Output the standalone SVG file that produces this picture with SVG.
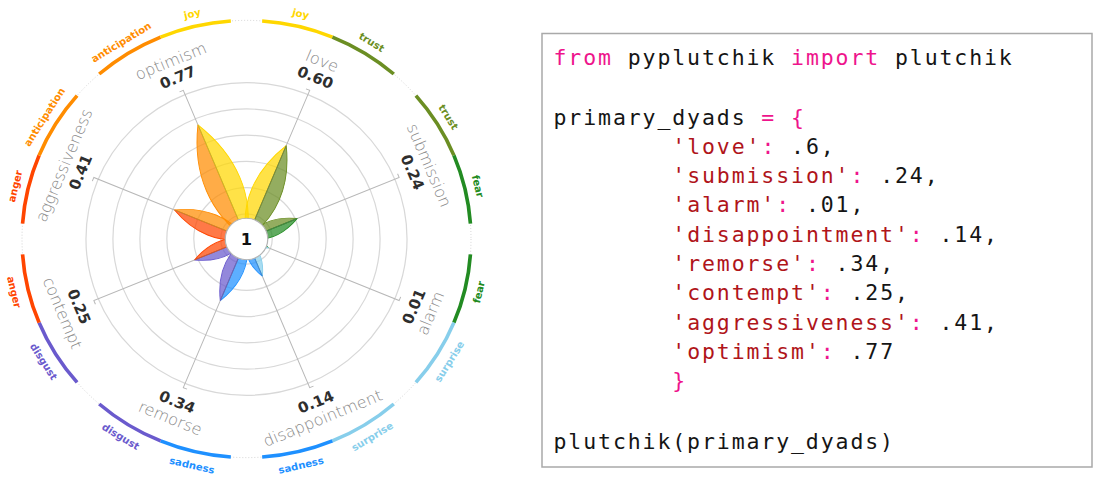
<svg xmlns="http://www.w3.org/2000/svg" width="1100" height="482" viewBox="0 0 1100 482">
<style>
.joy{fill:#FFD700;stroke:#FFD700}
.trust{fill:#6B8E23;stroke:#6B8E23}
.fear{fill:#228B22;stroke:#228B22}
.surprise{fill:#87CEEB;stroke:#87CEEB}
.sadness{fill:#1E90FF;stroke:#1E90FF}
.disgust{fill:#6A5ACD;stroke:#6A5ACD}
.anger{fill:#FF4500;stroke:#FF4500}
.anticipation{fill:#FF8C00;stroke:#FF8C00}
.grid{fill:none;stroke:#d8d8d8;stroke-width:1.2}
.ring{fill:none;stroke:#c8c8c8;stroke-width:0.8;stroke-dasharray:1 2}
.lead{fill:none;stroke:#b8b8b8;stroke-width:1}
.petal{fill-opacity:0.72;stroke-width:0.9}
.mid{stroke:#7a7a7a;stroke-opacity:0.55;stroke-width:0.7}
.arc{fill:none;stroke-width:3.6}
.val{font-family:"DejaVu Sans","Liberation Sans",sans-serif;font-weight:bold;font-size:15px;fill:#2e2e2e;text-anchor:middle}
.name{font-family:"DejaVu Sans","Liberation Sans",sans-serif;font-weight:200;font-size:16px;fill:#8a8a8a;text-anchor:middle}
.emo{font-family:"DejaVu Sans","Liberation Sans",sans-serif;font-weight:bold;font-size:10px;text-anchor:middle;stroke:none}
.code{font-family:"DejaVu Sans Mono","Liberation Mono",monospace;font-size:21.5px;letter-spacing:1.9px;fill:#151515}
.kw{fill:#ee148c}
.st{fill:#b0151a}
</style>

<g id="chart" transform="translate(246.5,239) scale(1.0135,0.987)">
  <g id="grid">
    <circle class="grid" r="25.4"/>
    <circle class="grid" r="52"/>
    <circle class="grid" r="78.6"/>
    <circle class="grid" r="105.2"/>
    <circle class="grid" r="131.8"/>
    <circle class="grid" r="158.4"/>
    <circle class="ring" r="221.5"/>
  </g>

  <g id="connectors">
    <path class="lead" transform="rotate(22.5)" d="M0,-102.4 V-163 H-4"/>
    <path class="lead" transform="rotate(67.5)" d="M0,-54.2 V-163 H-4"/>
    <path class="lead" transform="rotate(112.5)" d="M0,-23.3 V-163 H-4"/>
    <path class="lead" transform="rotate(157.5)" d="M0,-40.8 V-163 H-4"/>
    <path class="lead" transform="rotate(202.5)" d="M0,-67.6 V-163 H-4"/>
    <path class="lead" transform="rotate(247.5)" d="M0,-55.5 V-163 H-4"/>
    <path class="lead" transform="rotate(292.5)" d="M0,-76.9 V-163 H-4"/>
    <path class="lead" transform="rotate(337.5)" d="M0,-125.2 V-163 H-4"/>
  </g>

  <g id="dyad-love">
    <g transform="rotate(22.5)">
      <path class="petal joy" d="M0,0 C-19.5,-30.7 -19.5,-66.6 0,-102.4 Z"/>
      <path class="petal trust" d="M0,0 C19.5,-30.7 19.5,-66.6 0,-102.4 Z"/>
      <line class="mid" x1="0" y1="0" x2="0" y2="-102.4"/>
      <text class="val" y="-172">0.60</text>
      <text class="name" y="-189.5">love</text>
    </g>
  </g>
  <g id="dyad-submission">
    <g transform="rotate(67.5)">
      <path class="petal trust" d="M0,0 C-10.3,-16.3 -10.3,-35.2 0,-54.2 Z"/>
      <path class="petal fear" d="M0,0 C10.3,-16.3 10.3,-35.2 0,-54.2 Z"/>
      <line class="mid" x1="0" y1="0" x2="0" y2="-54.2"/>
      <text class="val" y="-172">0.24</text>
      <text class="name" y="-189.5">submission</text>
    </g>
  </g>
  <g id="dyad-alarm">
    <g transform="rotate(112.5)">
      <path class="petal fear" d="M0,0 C-4.4,-7 -4.4,-15.1 0,-23.3 Z"/>
      <path class="petal surprise" d="M0,0 C4.4,-7 4.4,-15.1 0,-23.3 Z"/>
    </g>
    <g transform="rotate(-67.5)">
      <text class="val" y="184">0.01</text>
      <text class="name" y="202">alarm</text>
    </g>
  </g>
  <g id="dyad-disappointment">
    <g transform="rotate(157.5)">
      <path class="petal surprise" d="M0,0 C-7.8,-12.2 -7.8,-26.5 0,-40.8 Z"/>
      <path class="petal sadness" d="M0,0 C7.8,-12.2 7.8,-26.5 0,-40.8 Z"/>
      <line class="mid" x1="0" y1="0" x2="0" y2="-40.8"/>
    </g>
    <g transform="rotate(-22.5)">
      <text class="val" y="184">0.14</text>
      <text class="name" y="202">disappointment</text>
    </g>
  </g>
  <g id="dyad-remorse">
    <g transform="rotate(202.5)">
      <path class="petal sadness" d="M0,0 C-12.8,-20.3 -12.8,-43.9 0,-67.6 Z"/>
      <path class="petal disgust" d="M0,0 C12.8,-20.3 12.8,-43.9 0,-67.6 Z"/>
      <line class="mid" x1="0" y1="0" x2="0" y2="-67.6"/>
    </g>
    <g transform="rotate(22.5)">
      <text class="val" y="184">0.34</text>
      <text class="name" y="202">remorse</text>
    </g>
  </g>
  <g id="dyad-contempt">
    <g transform="rotate(247.5)">
      <path class="petal disgust" d="M0,0 C-10.5,-16.7 -10.5,-36.1 0,-55.5 Z"/>
      <path class="petal anger" d="M0,0 C10.5,-16.7 10.5,-36.1 0,-55.5 Z"/>
      <line class="mid" x1="0" y1="0" x2="0" y2="-55.5"/>
    </g>
    <g transform="rotate(67.5)">
      <text class="val" y="184">0.25</text>
      <text class="name" y="202">contempt</text>
    </g>
  </g>
  <g id="dyad-aggressiveness">
    <g transform="rotate(292.5)">
      <path class="petal anger" d="M0,0 C-14.6,-23.1 -14.6,-50 0,-76.9 Z"/>
      <path class="petal anticipation" d="M0,0 C14.6,-23.1 14.6,-50 0,-76.9 Z"/>
      <line class="mid" x1="0" y1="0" x2="0" y2="-76.9"/>
    </g>
    <g transform="rotate(-67.5)">
      <text class="val" y="-172">0.41</text>
      <text class="name" y="-189.5">aggressiveness</text>
    </g>
  </g>
  <g id="dyad-optimism">
    <g transform="rotate(337.5)">
      <path class="petal anticipation" d="M0,0 C-23.8,-37.6 -23.8,-81.4 0,-125.2 Z"/>
      <path class="petal joy" d="M0,0 C23.8,-37.6 23.8,-81.4 0,-125.2 Z"/>
      <line class="mid" x1="0" y1="0" x2="0" y2="-125.2"/>
    </g>
    <g transform="rotate(-22.5)">
      <text class="val" y="-172">0.77</text>
      <text class="name" y="-189.5">optimism</text>
    </g>
  </g>

  <g id="center">
    <circle r="21" fill="#ffffff" stroke="#b4b4b4" stroke-width="1.2"/>
    <text y="5.8" font-family="DejaVu Sans, Liberation Sans, sans-serif" font-weight="bold" font-size="16" text-anchor="middle" fill="#111">1</text>
  </g>

  <g id="emotion-ring">
    <g transform="rotate(22.5)">
      <path class="arc joy" d="M-70.28,-210.05 A221.5,221.5 0 0 1 0,-221.5"/>
      <path class="arc trust" d="M0,-221.5 A221.5,221.5 0 0 1 70.28,-210.05"/>
    </g>
    <g transform="rotate(67.5)">
      <path class="arc trust" d="M-70.28,-210.05 A221.5,221.5 0 0 1 0,-221.5"/>
      <path class="arc fear" d="M0,-221.5 A221.5,221.5 0 0 1 70.28,-210.05"/>
    </g>
    <g transform="rotate(112.5)">
      <path class="arc fear" d="M-70.28,-210.05 A221.5,221.5 0 0 1 0,-221.5"/>
      <path class="arc surprise" d="M0,-221.5 A221.5,221.5 0 0 1 70.28,-210.05"/>
    </g>
    <g transform="rotate(157.5)">
      <path class="arc surprise" d="M-70.28,-210.05 A221.5,221.5 0 0 1 0,-221.5"/>
      <path class="arc sadness" d="M0,-221.5 A221.5,221.5 0 0 1 70.28,-210.05"/>
    </g>
    <g transform="rotate(202.5)">
      <path class="arc sadness" d="M-70.28,-210.05 A221.5,221.5 0 0 1 0,-221.5"/>
      <path class="arc disgust" d="M0,-221.5 A221.5,221.5 0 0 1 70.28,-210.05"/>
    </g>
    <g transform="rotate(247.5)">
      <path class="arc disgust" d="M-70.28,-210.05 A221.5,221.5 0 0 1 0,-221.5"/>
      <path class="arc anger" d="M0,-221.5 A221.5,221.5 0 0 1 70.28,-210.05"/>
    </g>
    <g transform="rotate(292.5)">
      <path class="arc anger" d="M-70.28,-210.05 A221.5,221.5 0 0 1 0,-221.5"/>
      <path class="arc anticipation" d="M0,-221.5 A221.5,221.5 0 0 1 70.28,-210.05"/>
    </g>
    <g transform="rotate(337.5)">
      <path class="arc anticipation" d="M-70.28,-210.05 A221.5,221.5 0 0 1 0,-221.5"/>
      <path class="arc joy" d="M0,-221.5 A221.5,221.5 0 0 1 70.28,-210.05"/>
    </g>

    <text class="emo joy" transform="rotate(13.2) translate(0,-231)">joy</text>
    <text class="emo trust" transform="rotate(31.8) translate(0,-231)">trust</text>
    <text class="emo trust" transform="rotate(58.2) translate(0,-231)">trust</text>
    <text class="emo fear" transform="rotate(76.8) translate(0,-231)">fear</text>
    <text class="emo fear" transform="rotate(-76.8) translate(0,239)">fear</text>
    <text class="emo surprise" transform="rotate(-58.2) translate(0,239)">surprise</text>
    <text class="emo surprise" transform="rotate(-31.8) translate(0,239)">surprise</text>
    <text class="emo sadness" transform="rotate(-13.2) translate(0,239)">sadness</text>
    <text class="emo sadness" transform="rotate(13.2) translate(0,239)">sadness</text>
    <text class="emo disgust" transform="rotate(31.8) translate(0,239)">disgust</text>
    <text class="emo disgust" transform="rotate(58.2) translate(0,239)">disgust</text>
    <text class="emo anger" transform="rotate(76.8) translate(0,239)">anger</text>
    <text class="emo anger" transform="rotate(-76.8) translate(0,-231)">anger</text>
    <text class="emo anticipation" transform="rotate(-58.2) translate(0,-231)">anticipation</text>
    <text class="emo anticipation" transform="rotate(-31.8) translate(0,-231)">anticipation</text>
    <text class="emo joy" transform="rotate(-13.2) translate(0,-231)">joy</text>
  </g>
</g>

<g id="code">
  <rect x="542" y="33.5" width="550" height="433.5" fill="#ffffff" stroke="#a9a9a9" stroke-width="1.5"/>
  <text class="code" x="553.5" y="64.5"><tspan class="kw">from</tspan> pyplutchik <tspan class="kw">import</tspan> plutchik</text>
  <text class="code" x="553.5" y="125">primary_dyads <tspan class="kw">= {</tspan></text>
  <text class="code" x="672.3" y="154"><tspan class="st">'love'</tspan><tspan class="kw">:</tspan> .6,</text>
  <text class="code" x="672.3" y="183.2"><tspan class="st">'submission'</tspan><tspan class="kw">:</tspan> .24,</text>
  <text class="code" x="672.3" y="212.4"><tspan class="st">'alarm'</tspan><tspan class="kw">:</tspan> .01,</text>
  <text class="code" x="672.3" y="241.6"><tspan class="st">'disappointment'</tspan><tspan class="kw">:</tspan> .14,</text>
  <text class="code" x="672.3" y="271"><tspan class="st">'remorse'</tspan><tspan class="kw">:</tspan> .34,</text>
  <text class="code" x="672.3" y="300.3"><tspan class="st">'contempt'</tspan><tspan class="kw">:</tspan> .25,</text>
  <text class="code" x="672.3" y="329.6"><tspan class="st">'aggressiveness'</tspan><tspan class="kw">:</tspan> .41,</text>
  <text class="code" x="672.3" y="358.9"><tspan class="st">'optimism'</tspan><tspan class="kw">:</tspan> .77</text>
  <text class="code kw" x="672.3" y="388.2">}</text>
  <text class="code" x="553.5" y="449">plutchik(primary_dyads)</text>
</g>
</svg>
